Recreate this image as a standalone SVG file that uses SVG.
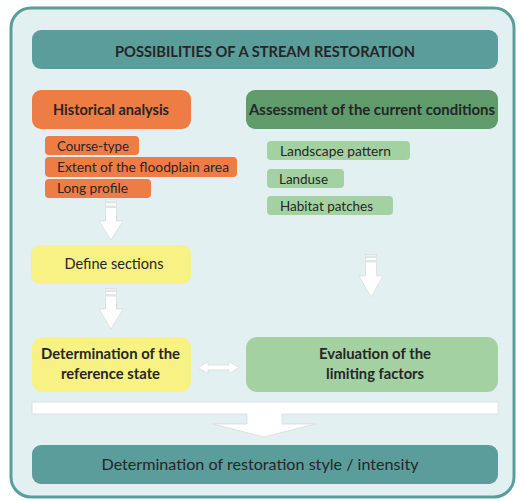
<svg xmlns="http://www.w3.org/2000/svg" width="520" height="501" viewBox="0 0 520 501">
<style>
text{font-family:Lato,"Open Sans","Liberation Sans",sans-serif;fill:#262626;}
.b{font-weight:bold;font-size:15px;}
.r{font-size:14px;}
.arr{fill:#ffffff;stroke:#dcdcdc;stroke-width:0.8;}
.orange{fill:#ee7d45;}
.lg{fill:#a3d1a2;}
</style>
<rect x="11" y="8" width="503" height="489" rx="20" fill="#e2f0f1" stroke="#5a9e9c" stroke-width="3"/>
<g id="title"><rect x="32" y="30" width="466" height="39" rx="9" fill="#5b9d9b"/><text class="b" x="265" y="57" text-anchor="middle" textLength="300" lengthAdjust="spacingAndGlyphs">POSSIBILITIES OF A STREAM RESTORATION</text></g>
<g id="historical"><rect x="32" y="90" width="159" height="39" rx="9" fill="#ee7d45"/><text class="b" x="111" y="115" text-anchor="middle" textLength="116" lengthAdjust="spacingAndGlyphs">Historical analysis</text></g>
<g id="assessment"><rect x="246" y="90" width="252" height="39" rx="9" fill="#5f9b6b"/><text class="b" x="372" y="115" text-anchor="middle" textLength="246" lengthAdjust="spacingAndGlyphs">Assessment of the current conditions</text></g>
<g id="course-type"><rect class="orange" x="45" y="136" width="94" height="19" rx="4"/><text class="r" x="57" y="151" textLength="72" lengthAdjust="spacingAndGlyphs">Course-type</text></g>
<g id="extent"><rect class="orange" x="45" y="157" width="192" height="20" rx="4"/><text class="r" x="57" y="172" textLength="172" lengthAdjust="spacingAndGlyphs">Extent of the floodplain area</text></g>
<g id="long-profile"><rect class="orange" x="45" y="179" width="106" height="19" rx="4"/><text class="r" x="57" y="193" textLength="71" lengthAdjust="spacingAndGlyphs">Long profile</text></g>
<g id="landscape"><rect class="lg" x="267" y="141" width="143" height="19" rx="4"/><text class="r" x="280" y="156" textLength="111" lengthAdjust="spacingAndGlyphs">Landscape pattern</text></g>
<g id="landuse"><rect class="lg" x="267" y="169" width="77" height="19" rx="4"/><text class="r" x="279" y="184" textLength="49" lengthAdjust="spacingAndGlyphs">Landuse</text></g>
<g id="habitat"><rect class="lg" x="267" y="196" width="126" height="19" rx="4"/><text class="r" x="280" y="211" textLength="93" lengthAdjust="spacingAndGlyphs">Habitat patches</text></g>
<g id="define"><rect x="31" y="245" width="160" height="39" rx="9" fill="#f8f184"/><text x="114" y="269" text-anchor="middle" font-size="15" textLength="99" lengthAdjust="spacingAndGlyphs">Define sections</text></g>
<g id="reference"><rect x="32" y="337" width="159" height="55" rx="11" fill="#f8f184"/><text class="b" x="110.5" y="359" text-anchor="middle" textLength="139" lengthAdjust="spacingAndGlyphs">Determination of the</text><text class="b" x="110.5" y="379" text-anchor="middle" textLength="99" lengthAdjust="spacingAndGlyphs">reference state</text></g>
<g id="limiting"><rect x="246" y="337" width="252" height="55" rx="11" fill="#a3d1a2"/><text class="b" x="375" y="359" text-anchor="middle" textLength="112" lengthAdjust="spacingAndGlyphs">Evaluation of the</text><text class="b" x="375" y="379" text-anchor="middle" textLength="98" lengthAdjust="spacingAndGlyphs">limiting factors</text></g>
<g id="result"><rect x="32" y="445" width="466" height="39" rx="9" fill="#5b9d9b"/><text x="260" y="470" text-anchor="middle" font-size="16" textLength="317" lengthAdjust="spacingAndGlyphs">Determination of restoration style / intensity</text></g>
<g id="connectors">
<g class="arr">
<rect x="105.5" y="200" width="11" height="1.5"/><rect x="105.5" y="203" width="11" height="3"/>
<path d="M105.5,207.5 H116.5 V221 H123 L111,240 L99,221 H105.5 Z"/>
<rect x="105.5" y="288.5" width="11" height="1.5"/><rect x="105.5" y="291.5" width="11" height="3"/>
<path d="M105.5,296 H116.5 V309 H123 L111,329 L99,309 H105.5 Z"/>
<rect x="365.5" y="254.5" width="11" height="1.5"/><rect x="365.5" y="257.5" width="11" height="3"/>
<path d="M365.5,262 H376.5 V276 H383 L371,297 L359,276 H365.5 Z"/>
<path d="M198,367.5 L208,361.5 V365 H229 V361.5 L239,367.5 L229,373.5 V370 H208 V373.5 Z"/>
<path d="M32,402 H498 V414 H282 V424 H315 L264,437 L213,424 H247 V414 H32 Z"/>
</g>
</g>
</svg>
